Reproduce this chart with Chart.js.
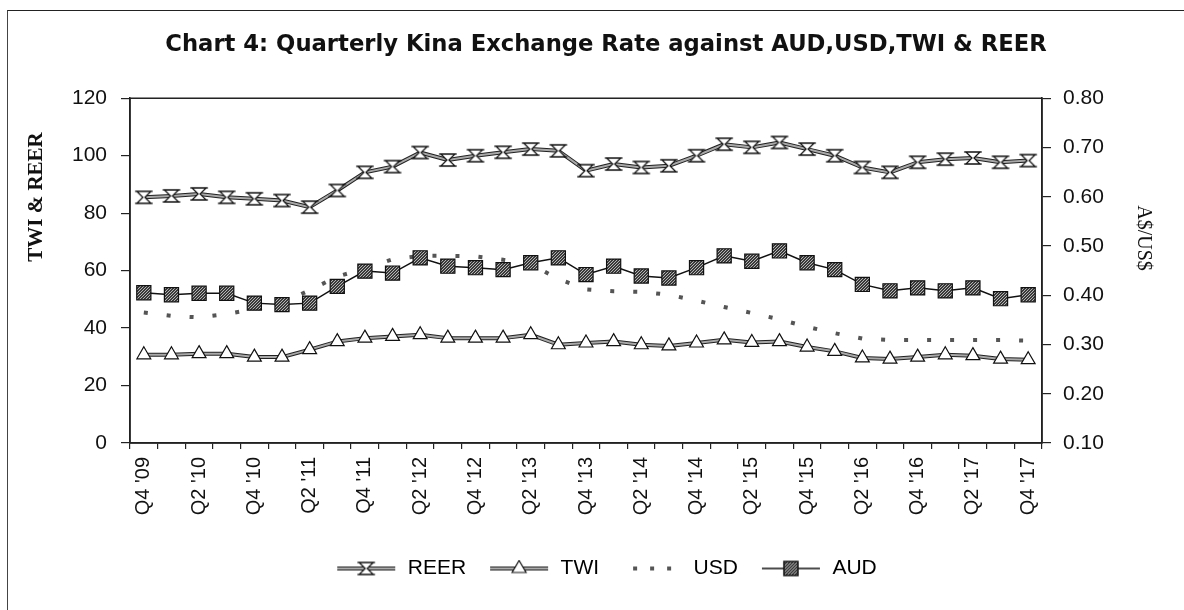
<!DOCTYPE html>
<html>
<head>
<meta charset="utf-8">
<script src="https://cdn.jsdelivr.net/npm/chart.js@4.4.1/dist/chart.umd.min.js"></script>
<style>
  html, body { margin: 0; padding: 0; background: #fff; overflow: hidden; }
  #wrap { position: relative; width: 1184px; height: 610px; overflow: hidden; }
  #frame { position: absolute; left: 7px; top: 10px; width: 1300px; height: 700px;
           border-left: 1px solid #444; border-top: 1.5px solid #222; }
  #c { position: absolute; left: 0; top: 0; }
</style>
</head>
<body>
<div id="wrap">
  <div id="frame"></div>
  <canvas id="c" width="1212" height="610"></canvas>
</div>
<script>
const quarters = [
  "Q4 '09", "Q1 '10", "Q2 '10", "Q3 '10", "Q4 '10", "Q1 '11", "Q2 '11", "Q3 '11",
  "Q4 '11", "Q1 '12", "Q2 '12", "Q3 '12", "Q4 '12", "Q1 '13", "Q2 '13", "Q3 '13",
  "Q4 '13", "Q1 '14", "Q2 '14", "Q3 '14", "Q4 '14", "Q1 '15", "Q2 '15", "Q3 '15",
  "Q4 '15", "Q1 '16", "Q2 '16", "Q3 '16", "Q4 '16", "Q1 '17", "Q2 '17", "Q3 '17", "Q4 '17"
];

const reer = [85.5, 86.0, 86.7, 85.5, 85.0, 84.4, 82.1, 87.9, 94.2, 96.2, 101.1, 98.5,
  100.0, 101.2, 102.3, 101.7, 94.8, 97.1, 95.9, 96.5, 100.0, 104.0, 102.9, 104.6,
  102.3, 100.0, 95.9, 94.2, 97.7, 98.8, 99.2, 97.7, 98.3];

const twi = [30.7, 30.7, 31.1, 31.1, 29.9, 29.9, 32.5, 35.3, 36.5, 37.1, 37.7, 36.5,
  36.5, 36.5, 37.7, 34.2, 34.8, 35.3, 34.2, 33.8, 34.8, 35.9, 35.0, 35.3,
  33.4, 31.9, 29.6, 29.2, 29.9, 30.7, 30.4, 29.2, 29.0];

const usd = [0.365, 0.358, 0.355, 0.362, 0.372, 0.385, 0.410, 0.438, 0.454, 0.473, 0.480, 0.480,
  0.479, 0.472, 0.463, 0.433, 0.412, 0.408, 0.407, 0.401, 0.389, 0.376, 0.364, 0.351,
  0.336, 0.323, 0.312, 0.309, 0.309, 0.309, 0.309, 0.309, 0.308];

const aud = [0.405, 0.401, 0.404, 0.404, 0.384, 0.381, 0.384, 0.418, 0.449, 0.445, 0.476, 0.459,
  0.456, 0.452, 0.466, 0.476, 0.442, 0.459, 0.439, 0.435, 0.456, 0.480, 0.469, 0.490,
  0.466, 0.452, 0.422, 0.409, 0.415, 0.409, 0.415, 0.393, 0.401];

const seriesNames = ["REER", "TWI", "USD", "AUD"];
const chartTitle = "Chart 4: Quarterly Kina Exchange Rate against AUD,USD,TWI & REER";
const leftTitle = "TWI & REER";
const rightTitle = "A$/US$";

const SANS = "'Liberation Sans', Arial, sans-serif";
const SERIF = "'Liberation Serif', 'Times New Roman', serif";

// halftone fill for the AUD squares
function makePattern() {
  const p = document.createElement("canvas");
  p.width = 3; p.height = 3;
  const g = p.getContext("2d");
  g.fillStyle = "#3a3a3a";
  g.fillRect(0, 0, 3, 3);
  g.fillStyle = "#b5b5b5";
  g.fillRect(0, 0, 1, 1);
  g.fillRect(2, 1, 1, 1);
  g.fillRect(1, 2, 1, 1);
  return p.getContext("2d").createPattern(p, "repeat");
}
const audFill = makePattern();

// hourglass marker for REER
function reerShape(g, cx, cy) {
  g.beginPath();
  g.moveTo(cx - 7, cy - 6);
  g.lineTo(cx + 7, cy - 6);
  g.lineTo(cx + 1, cy);
  g.lineTo(cx + 7, cy + 6);
  g.lineTo(cx - 7, cy + 6);
  g.lineTo(cx - 1, cy);
  g.closePath();
  g.fillStyle = "#fff";
  g.fill();
  g.strokeStyle = "#111";
  g.lineWidth = 1.2;
  g.stroke();
  g.beginPath();
  g.moveTo(cx - 9, cy - 6); g.lineTo(cx + 9, cy - 6);
  g.moveTo(cx - 9, cy + 6); g.lineTo(cx + 9, cy + 6);
  g.stroke();
}
const reerMarker = document.createElement("canvas");
reerMarker.width = 20; reerMarker.height = 16;
reerShape(reerMarker.getContext("2d"), 10, 8);

// legend icons: line sample with marker
function legendIcon(kind) {
  const c = document.createElement("canvas");
  c.width = 62; c.height = 18;
  const g = c.getContext("2d");
  const y = 9;
  if (kind === "REER" || kind === "TWI") {
    g.strokeStyle = "#222"; g.lineWidth = 4;
    g.beginPath(); g.moveTo(2, y); g.lineTo(60, y); g.stroke();
    g.strokeStyle = "#aaa"; g.lineWidth = 2;
    g.beginPath(); g.moveTo(2, y); g.lineTo(60, y); g.stroke();
    if (kind === "REER") {
      reerShape(g, 31, y);
    } else {
      g.beginPath();
      g.moveTo(31, y - 8); g.lineTo(38, y + 4); g.lineTo(24, y + 4); g.closePath();
      g.fillStyle = "#fff"; g.fill();
      g.strokeStyle = "#111"; g.lineWidth = 1.2; g.stroke();
    }
  } else if (kind === "USD") {
    g.fillStyle = "#555";
    [12, 29, 46].forEach(x => g.fillRect(x, y - 2, 4, 4));
  } else {
    g.strokeStyle = "#111"; g.lineWidth = 1.5;
    g.beginPath(); g.moveTo(2, y); g.lineTo(60, y); g.stroke();
    g.fillStyle = audFill;
    g.fillRect(24, y - 7, 14, 14);
    g.strokeRect(24, y - 7, 14, 14);
  }
  return c;
}

// outline under the REER/TWI lines so they look like double lines
const outlinePlugin = {
  id: "outline",
  beforeDatasetDraw(chart, args) {
    const ds = chart.data.datasets[args.index];
    if (!ds.outline) return;
    const pts = args.meta.data;
    const ctx = chart.ctx;
    ctx.save();
    ctx.strokeStyle = "#222";
    ctx.lineWidth = 4;
    ctx.lineJoin = "round";
    ctx.beginPath();
    pts.forEach((p, i) => i ? ctx.lineTo(p.x, p.y) : ctx.moveTo(p.x, p.y));
    ctx.stroke();
    ctx.restore();
  }
};

// plot frame + rotated axis titles
const framePlugin = {
  id: "frame",
  beforeDatasetsDraw(chart) {
    const a = chart.chartArea, ctx = chart.ctx;
    ctx.save();
    ctx.strokeStyle = "#222";
    ctx.lineWidth = 1.5;
    ctx.strokeRect(a.left, a.top, a.right - a.left, a.bottom - a.top);
    ctx.restore();
  },
  afterDraw(chart) {
    const ctx = chart.ctx;
    ctx.save();
    ctx.fillStyle = "#111";
    ctx.textAlign = "center";
    ctx.textBaseline = "middle";
    ctx.font = "bold 21px " + SERIF;
    ctx.translate(37, 197);
    ctx.rotate(-Math.PI / 2);
    ctx.fillText(leftTitle, 0, 0);
    ctx.restore();
    ctx.save();
    ctx.fillStyle = "#111";
    ctx.textAlign = "center";
    ctx.textBaseline = "middle";
    ctx.font = "20px " + SERIF;
    ctx.translate(1143, 238);
    ctx.rotate(Math.PI / 2);
    ctx.fillText(rightTitle, 0, 0);
    ctx.restore();
  }
};

new Chart(document.getElementById("c"), {
  type: "line",
  data: {
    labels: quarters,
    datasets: [
      {
        label: "REER", data: reer, yAxisID: "y", order: 2, outline: true,
        borderColor: "#a8a8a8", borderWidth: 2, tension: 0,
        pointStyle: reerMarker, pointRadius: 8
      },
      {
        label: "TWI", data: twi, yAxisID: "y", order: 3, outline: true,
        borderColor: "#a8a8a8", borderWidth: 2, tension: 0,
        pointStyle: "triangle", pointRadius: 8,
        pointBackgroundColor: "#fff", pointBorderColor: "#111", pointBorderWidth: 1.2
      },
      {
        label: "USD", data: usd, yAxisID: "y1", order: 1,
        borderColor: "#555", borderWidth: 4, borderDash: [4, 19], borderCapStyle: "butt",
        tension: 0, pointRadius: 0
      },
      {
        label: "AUD", data: aud, yAxisID: "y1", order: 0,
        borderColor: "#111", borderWidth: 1.5, tension: 0,
        pointStyle: "rect", pointRadius: 10,
        pointBackgroundColor: audFill, pointBorderColor: "#111", pointBorderWidth: 1.2
      }
    ]
  },
  options: {
    responsive: false,
    animation: false,
    devicePixelRatio: 1,
    layout: { padding: { top: 0, bottom: 21, left: 0, right: 0 } },
    plugins: {
      tooltip: { enabled: false },
      title: {
        display: true,
        text: chartTitle,
        color: "#111",
        font: { family: "'DejaVu Sans', sans-serif", weight: "bold", size: 22.7 },
        padding: { top: 31, bottom: 40 }
      },
      legend: {
        position: "bottom",
        labels: {
          usePointStyle: true,
          pointStyleWidth: 62,
          padding: 22,
          color: "#111",
          font: { family: SANS, size: 21 },
          generateLabels: () => seriesNames.map((n, i) => ({
            text: n, pointStyle: legendIcon(n), datasetIndex: i,
            fillStyle: "#fff", strokeStyle: "#fff", lineWidth: 0, hidden: false
          }))
        }
      }
    },
    scales: {
      x: {
        offset: true,
        grid: { offset: true, drawOnChartArea: false, tickLength: 6, color: "#222", lineWidth: 1.2 },
        border: { color: "#222", width: 1.5 },
        ticks: {
          autoSkip: false, minRotation: 90, maxRotation: 90, padding: 8,
          color: "#111", font: { family: SANS, size: 20 },
          callback: (v, i) => (i % 2 === 0 ? quarters[i] : "")
        },
        afterFit: s => { s.height = 93; }
      },
      y: {
        position: "left", min: 0, max: 120,
        grid: { drawOnChartArea: false, tickLength: 9, color: "#222", lineWidth: 1.2 },
        border: { color: "#222", width: 1.5 },
        ticks: { stepSize: 20, padding: 14, color: "#111", font: { family: SANS, size: 21 } },
        afterFit: s => { s.width = 130; }
      },
      y1: {
        position: "right", min: 0.1, max: 0.8,
        grid: { drawOnChartArea: false, tickLength: 9, color: "#222", lineWidth: 1.2 },
        border: { color: "#222", width: 1.5 },
        ticks: {
          stepSize: 0.1, padding: 12, color: "#111", font: { family: SANS, size: 21 },
          callback: v => Number(v).toFixed(2)
        },
        afterFit: s => { s.width = 1212 - 1042; }
      }
    }
  },
  plugins: [outlinePlugin, framePlugin]
});
</script>
</body>
</html>
